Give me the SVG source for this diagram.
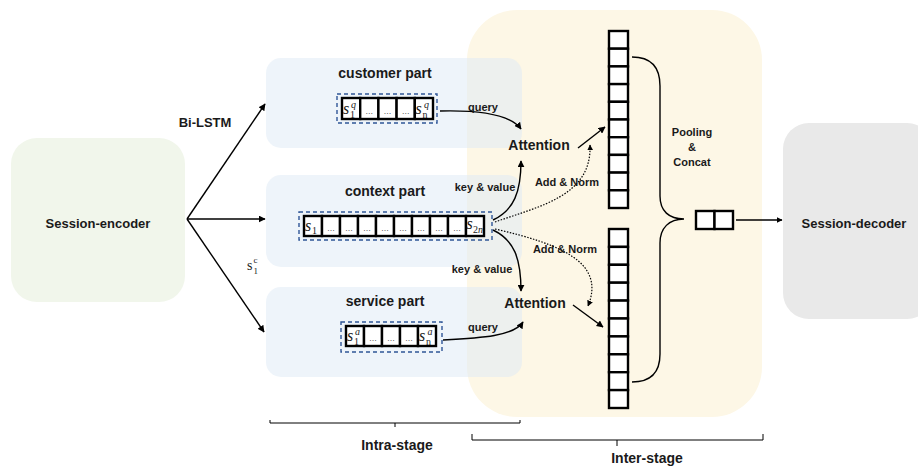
<svg xmlns="http://www.w3.org/2000/svg" width="918" height="466" viewBox="0 0 918 466">
<defs>
<marker id="ah" viewBox="0 0 10 10" refX="9" refY="5" markerWidth="7" markerHeight="7" markerUnits="userSpaceOnUse" orient="auto">
<path d="M0,0 L10,5 L0,10 z" fill="#000"/>
</marker>
<marker id="ahs" viewBox="0 0 10 10" refX="9" refY="5" markerWidth="6" markerHeight="6" markerUnits="userSpaceOnUse" orient="auto">
<path d="M0,0 L10,5 L0,10 z" fill="#000"/>
</marker>
</defs>
<style>
.lbl{font-family:"Liberation Sans",Arial,sans-serif;font-weight:bold;fill:#1a1a1a;text-anchor:middle}
.t14{font-size:14px}
.t13{font-size:13px}
.t11{font-size:11px}
.panel{fill:#DDE9F5;fill-opacity:0.5}
.cell{fill:#fff;stroke:#000;stroke-width:2.4}
.dash{fill:none;stroke:#2F5597;stroke-width:1.4;stroke-dasharray:4 3}
.conn{fill:none;stroke:#000;stroke-width:1.4}
.dot{fill:none;stroke:#000;stroke-width:1.2;stroke-dasharray:1.5 1.5}
.dots{font-family:"Liberation Sans",Arial,sans-serif;font-size:8px;fill:#000;text-anchor:middle}
.m{font-family:"Liberation Serif","Times New Roman",serif;fill:#1a1a1a}
.mi{font-style:italic;font-size:16px}
.ms{font-size:10px}
.br{fill:none;stroke:#000;stroke-width:1}
</style>

<g id="inter-stage-region">
<rect x="467" y="10" width="295" height="407" rx="50" fill="#FDF7E6"/>
</g>

<g id="session-encoder">
<rect x="11" y="138" width="174" height="164" rx="26" fill="#F1F6EB"/>
<text class="lbl t13" x="98" y="228">Session-encoder</text>
</g>

<g id="session-decoder">
<rect x="783" y="123" width="150" height="196" rx="26" fill="#E9E9E9"/>
<text class="lbl t13" x="854" y="228">Session-decoder</text>
</g>

<g id="customer-part">
<rect class="panel" x="266" y="58" width="256" height="90" rx="15"/>
<text class="lbl t14" x="385" y="78">customer part</text>
<rect class="dash" x="337" y="94" width="100" height="29"/>
<rect class="cell" x="342" y="98" width="18.2" height="21"/>
<rect class="cell" x="360.2" y="98" width="18.2" height="21"/>
<rect class="cell" x="378.4" y="98" width="18.2" height="21"/>
<rect class="cell" x="396.6" y="98" width="18.2" height="21"/>
<rect class="cell" x="414.8" y="98" width="18.2" height="21"/>
<text class="m mi" x="343" y="114">s</text><text class="m ms" x="350" y="118">1</text><text class="m ms" x="351" y="108" font-style="italic">q</text>
<text class="dots" x="387.5" y="114">…</text>
<text class="dots" x="405.7" y="114">…</text>
<text class="dots" x="369.3" y="114">…</text>
<text class="m mi" x="415.5" y="114">s</text><text class="m ms" x="422.5" y="118">n</text><text class="m ms" x="424" y="108" font-style="italic">q</text>
</g>

<g id="context-part">
<rect class="panel" x="266" y="175" width="256" height="92" rx="15"/>
<text class="lbl t14" x="385" y="196">context part</text>
<rect class="dash" x="299" y="212" width="193" height="28"/>
<rect class="cell" x="304" y="216" width="18" height="20"/>
<rect class="cell" x="322" y="216" width="18" height="20"/>
<rect class="cell" x="340" y="216" width="18" height="20"/>
<rect class="cell" x="358" y="216" width="18" height="20"/>
<rect class="cell" x="376" y="216" width="18" height="20"/>
<rect class="cell" x="394" y="216" width="18" height="20"/>
<rect class="cell" x="412" y="216" width="18" height="20"/>
<rect class="cell" x="430" y="216" width="18" height="20"/>
<rect class="cell" x="448" y="216" width="18" height="20"/>
<rect class="cell" x="466" y="216" width="18" height="20"/>
<text class="m mi" x="305" y="231">s</text><text class="m ms" x="312" y="234">1</text>
<text class="dots" x="331" y="231">…</text>
<text class="dots" x="349" y="231">…</text>
<text class="dots" x="367" y="231">…</text>
<text class="dots" x="385" y="231">…</text>
<text class="dots" x="403" y="231">…</text>
<text class="dots" x="421" y="231">…</text>
<text class="dots" x="439" y="231">…</text>
<text class="dots" x="457" y="231">…</text>
<text class="m mi" x="466.5" y="229">s</text><text class="m ms" x="473" y="233">2<tspan font-style="italic">n</tspan></text>
</g>

<g id="service-part">
<rect class="panel" x="266" y="287" width="256" height="90" rx="15"/>
<text class="lbl t14" x="385" y="306">service part</text>
<rect class="dash" x="341" y="322" width="101" height="30"/>
<rect class="cell" x="346" y="326" width="18" height="20"/>
<rect class="cell" x="364" y="326" width="18" height="20"/>
<rect class="cell" x="382" y="326" width="18" height="20"/>
<rect class="cell" x="400" y="326" width="18" height="20"/>
<rect class="cell" x="418" y="326" width="18" height="20"/>
<text class="m mi" x="347" y="341">s</text><text class="m ms" x="354" y="345">1</text><text class="m ms" x="355" y="335" font-style="italic">a</text>
<text class="dots" x="373" y="341">…</text>
<text class="dots" x="391" y="341">…</text>
<text class="dots" x="409" y="341">…</text>
<text class="m mi" x="419" y="341">s</text><text class="m ms" x="426" y="345">n</text><text class="m ms" x="427.5" y="335" font-style="italic">a</text>
</g>

<g id="attention-top">
<text class="lbl t14" x="539" y="150">Attention</text>
</g>
<g id="attention-bottom">
<text class="lbl t14" x="535" y="308">Attention</text>
</g>

<g id="column-top">
<rect class="cell" x="609" y="31" width="19" height="17.7"/>
<rect class="cell" x="609" y="48.7" width="19" height="17.7"/>
<rect class="cell" x="609" y="66.4" width="19" height="17.7"/>
<rect class="cell" x="609" y="84.1" width="19" height="17.7"/>
<rect class="cell" x="609" y="101.8" width="19" height="17.7"/>
<rect class="cell" x="609" y="119.5" width="19" height="17.7"/>
<rect class="cell" x="609" y="137.2" width="19" height="17.7"/>
<rect class="cell" x="609" y="154.9" width="19" height="17.7"/>
<rect class="cell" x="609" y="172.6" width="19" height="17.7"/>
<rect class="cell" x="609" y="190.3" width="19" height="17.7"/>
</g>

<g id="column-bottom">
<rect class="cell" x="609" y="229" width="19" height="17.9"/>
<rect class="cell" x="609" y="246.9" width="19" height="17.9"/>
<rect class="cell" x="609" y="264.8" width="19" height="17.9"/>
<rect class="cell" x="609" y="282.7" width="19" height="17.9"/>
<rect class="cell" x="609" y="300.6" width="19" height="17.9"/>
<rect class="cell" x="609" y="318.5" width="19" height="17.9"/>
<rect class="cell" x="609" y="336.4" width="19" height="17.9"/>
<rect class="cell" x="609" y="354.3" width="19" height="17.9"/>
<rect class="cell" x="609" y="372.2" width="19" height="17.9"/>
<rect class="cell" x="609" y="390.1" width="19" height="17.9"/>
</g>

<g id="pooled-vector">
<rect class="cell" x="696" y="211" width="18.5" height="18"/>
<rect class="cell" x="714.5" y="211" width="18.5" height="18"/>
</g>

<g id="pooling-concat">
<path class="conn" d="M632,57 C650,57 660,66 660,86 L660,196 C660,211 669,219 684,219 C669,219 660,228 660,243 L660,354 C660,373 650,382 632,382"/>
<text class="lbl t11" x="692" y="136">Pooling</text>
<text class="lbl t11" x="692" y="151">&amp;</text>
<text class="lbl t11" x="692" y="166">Concat</text>
</g>

<g id="connectors">
<path class="conn" d="M187,219 L265,104" marker-end="url(#ah)"/>
<path class="conn" d="M187,219 L265,219" marker-end="url(#ah)"/>
<path class="conn" d="M187,219 L264,332" marker-end="url(#ah)"/>
<path class="conn" d="M440,111 C480,110 510,114 521,129" marker-end="url(#ah)"/>
<path class="conn" d="M443,340 C482,338 514,336 523,322" marker-end="url(#ah)"/>
<path class="conn" d="M493,220 C514,210 521,192 521,161" marker-end="url(#ah)"/>
<path class="conn" d="M493,230 C514,240 521,258 521,291" marker-end="url(#ah)"/>
<path class="conn" d="M578,148 L605,127" marker-end="url(#ah)"/>
<path class="conn" d="M573,305 L603,327" marker-end="url(#ah)"/>
<path class="dot" d="M495,222 C540,206 592,196 590,145" marker-end="url(#ahs)"/>
<path class="dot" d="M495,229 C560,244 606,262 588,306" marker-end="url(#ahs)"/>
<path class="conn" d="M736,220 L782,220" stroke-width="1" marker-end="url(#ahs)"/>
</g>

<g id="edge-labels">
<text class="lbl t13" x="205" y="127">Bi-LSTM</text>
<text class="m" x="247" y="270" font-size="14">s</text><text class="m" x="253.5" y="274" font-size="9">1</text><text class="m" x="253.5" y="263" font-size="9">c</text>
<text class="lbl t11" x="483" y="111">query</text>
<text class="lbl t11" x="483" y="331">query</text>
<text class="lbl t11" x="485" y="191">key &amp; value</text>
<text class="lbl t11" x="482" y="273">key &amp; value</text>
<text class="lbl t11" x="567" y="186">Add &amp; Norm</text>
<text class="lbl t11" x="565" y="253">Add &amp; Norm</text>
</g>

<g id="stage-brackets">
<path class="br" d="M270,420 L270,423 L520,423 L520,420 M395,423 L395,427"/>
<text class="lbl t14" x="397" y="450">Intra-stage</text>
<path class="br" d="M472,434 L472,440 L763,440 L763,434 M617,440 L617,446"/>
<text class="lbl t14" x="647" y="463">Inter-stage</text>
</g>
</svg>
